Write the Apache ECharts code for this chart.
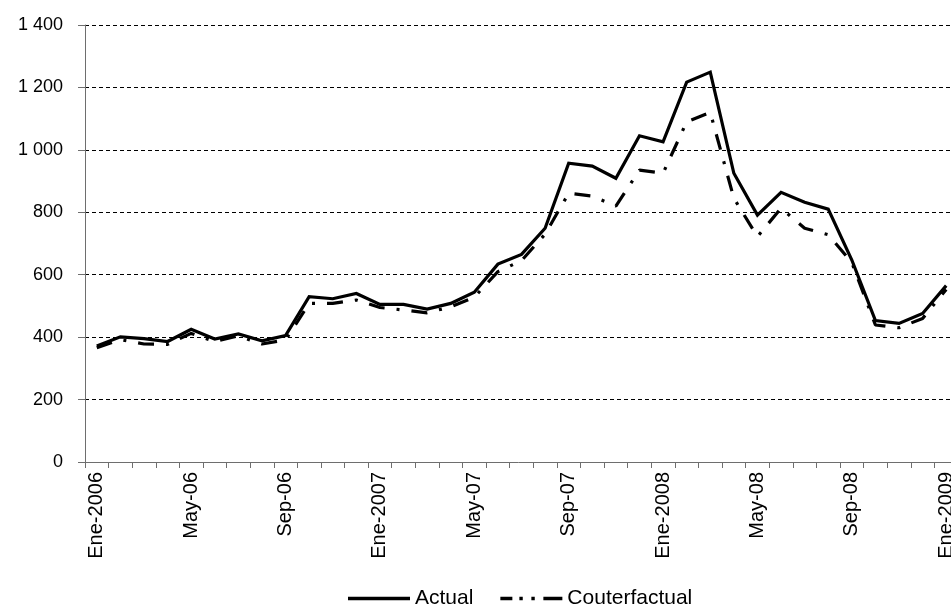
<!DOCTYPE html>
<html>
<head>
<meta charset="utf-8">
<script src="https://cdn.jsdelivr.net/npm/echarts@6/dist/echarts.min.js"></script>
<style>
  html, body { margin: 0; padding: 0; background: #fff; }
  #chart { width: 951px; height: 606px; }
</style>
</head>
<body>
<div id="chart"></div>
<script>
// Monthly categories, January 2006 to January 2009
const months = [
  'Ene-2006', 'Feb-06', 'Mar-06', 'Abr-06', 'May-06', 'Jun-06', 'Jul-06', 'Ago-06',
  'Sep-06', 'Oct-06', 'Nov-06', 'Dic-06',
  'Ene-2007', 'Feb-07', 'Mar-07', 'Abr-07', 'May-07', 'Jun-07', 'Jul-07', 'Ago-07',
  'Sep-07', 'Oct-07', 'Nov-07', 'Dic-07',
  'Ene-2008', 'Feb-08', 'Mar-08', 'Abr-08', 'May-08', 'Jun-08', 'Jul-08', 'Ago-08',
  'Sep-08', 'Oct-08', 'Nov-08', 'Dic-08',
  'Ene-2009'
];

const actual = [
  372, 401, 395, 386, 425, 394, 410, 388, 405, 530, 523, 540,
  505, 505, 490, 508, 544, 634, 665, 749, 957, 948, 909, 1045,
  1026, 1217, 1249, 925, 791, 864, 832, 810, 647, 453, 444, 476,
  565
];

const counterfactual = [
  366, 392, 378, 377, 412, 386, 404, 378, 391, 508, 508, 519,
  495, 487, 478, 497, 528, 610, 645, 730, 861, 852, 820, 935,
  925, 1090, 1120, 845, 722, 813, 749, 728, 639, 439, 430, 460,
  553
];

const yTicks = [0, 200, 400, 600, 800, 1000, 1200, 1400];

const FONT = "'Liberation Sans', Arial, sans-serif";
const AXIS_GREY = '#6e6e6e';

// Legend keys: a solid bar and a dash–dot–dot–dash sample
const ICON_SOLID = 'path://M0,0H62V3.4H0Z';
const ICON_DASHDOT = 'path://M0,0H12V3.4H0Z M19,0H22.4V3.4H19Z M31,0H34.4V3.4H31Z M43,0H62V3.4H43Z';

function formatThousands(v) {
  return String(v).replace(/\B(?=(\d{3})+(?!\d))/g, ' ');
}

const chart = echarts.init(document.getElementById('chart'), null, { renderer: 'canvas' });

chart.setOption({
  animation: false,
  backgroundColor: '#ffffff',
  grid: {
    left: 85, top: 25, width: 873, height: 437,
    containLabel: false,
    outerBoundsMode: 'none'
  },
  legend: {
    left: 343,
    top: 583,
    itemWidth: 62,
    itemHeight: 14,
    itemGap: 27,
    textStyle: { fontFamily: FONT, fontSize: 21, color: '#000' },
    data: [
      { name: 'Actual', icon: ICON_SOLID, itemStyle: { color: '#000' } },
      { name: 'Couterfactual', icon: ICON_DASHDOT, itemStyle: { color: '#000' } }
    ]
  },
  xAxis: {
    type: 'category',
    data: months,
    boundaryGap: true,
    axisLine: { lineStyle: { color: AXIS_GREY, width: 1 } },
    axisTick: { show: true, interval: 0, length: 6, lineStyle: { color: AXIS_GREY } },
    axisLabel: {
      interval: 3,
      rotate: 90,
      margin: 10,
      fontFamily: FONT,
      fontSize: 20,
      color: '#000'
    },
    splitLine: { show: false }
  },
  yAxis: {
    type: 'value',
    min: yTicks[0],
    max: yTicks[yTicks.length - 1],
    interval: 200,
    axisLine: { show: true, lineStyle: { color: AXIS_GREY, width: 1 } },
    axisTick: { show: true, length: 7, lineStyle: { color: AXIS_GREY } },
    axisLabel: {
      margin: 22,
      fontFamily: FONT,
      fontSize: 18,
      color: '#000',
      formatter: formatThousands
    },
    splitLine: { show: true, lineStyle: { color: '#000', width: 1, type: [4, 3] } }
  },
  series: [
    {
      name: 'Actual',
      type: 'line',
      data: actual,
      symbol: 'none',
      z: 3,
      lineStyle: { color: '#000', width: 3.2, join: 'miter' },
      itemStyle: { color: '#000' }
    },
    {
      name: 'Couterfactual',
      type: 'line',
      data: counterfactual,
      symbol: 'none',
      z: 2,
      lineStyle: { color: '#000', width: 3.2, type: [16, 12, 3, 12], cap: 'butt' },
      itemStyle: { color: '#000' }
    }
  ]
});
</script>
</body>
</html>
